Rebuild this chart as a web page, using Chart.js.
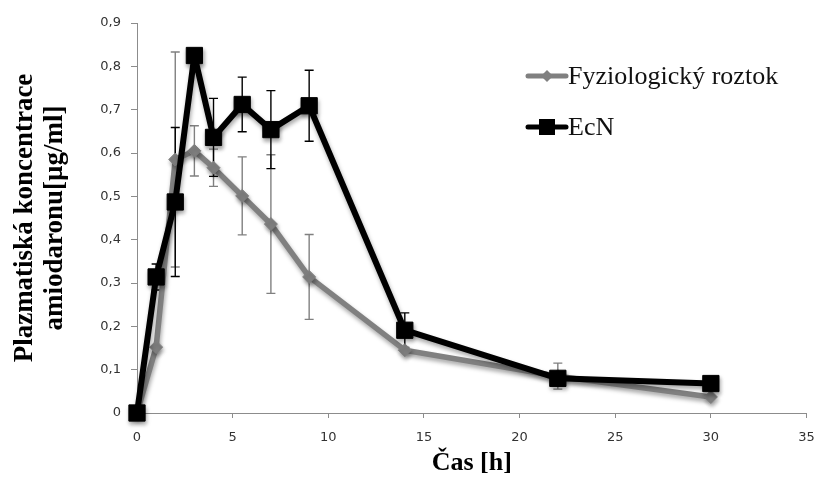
<!DOCTYPE html>
<html>
<head>
<meta charset="utf-8">
<script src="https://cdn.jsdelivr.net/npm/chart.js@4.4.1/dist/chart.umd.min.js"></script>
<style>
  html, body { margin: 0; padding: 0; background: #fff; }
  #wrap { width: 819px; height: 479px; }
</style>
</head>
<body>
<div id="wrap"><canvas id="c" width="819" height="479"></canvas></div>
<script>
// Sampling times [h]
const hours = [0, 1, 2, 3, 4, 5.5, 7, 9, 14, 22, 30];

// Plasma amiodarone concentration [µg/ml], mean values
const fyziologicky = [0, 0.152, 0.585, 0.605, 0.566, 0.501, 0.436, 0.314, 0.145, 0.085, 0.037];
const ecn          = [0, 0.314, 0.487, 0.825, 0.636, 0.712, 0.654, 0.709, 0.191, 0.080, 0.068];

// Standard deviations (symmetric error bars)
const fyziologickyErr = [0, 0, 0.248, 0.058, 0.043, 0.09, 0.16, 0.098, 0, 0.03, 0];
const ecnErr          = [0, 0.03, 0.172, 0, 0.09, 0.063, 0.09, 0.082, 0.04, 0, 0];

const seriesNames = ['Fyziologický roztok', 'EcN'];
const xTicks = [0, 5, 10, 15, 20, 25, 30, 35];
const yTickLabels = ['0', '0,1', '0,2', '0,3', '0,4', '0,5', '0,6', '0,7', '0,8', '0,9'];

const GRAY = '#808080';
const BLACK = '#000000';
const AXIS = '#8c8c8c';

const toPoints = (vals) => hours.map((h, i) => ({ x: h, y: vals[i] }));

// Error bars, drawn beneath the series lines
const errorBars = {
  id: 'errorBars',
  beforeDatasetsDraw(chart) {
    const { ctx, scales: { x, y } } = chart;
    const sets = [
      { vals: fyziologicky, err: fyziologickyErr, color: GRAY },
      { vals: ecn, err: ecnErr, color: BLACK }
    ];
    ctx.save();
    ctx.lineWidth = 1.4;
    sets.forEach(s => {
      ctx.strokeStyle = s.color;
      hours.forEach((h, i) => {
        const e = s.err[i];
        if (!e) return;
        const px = x.getPixelForValue(h);
        const top = y.getPixelForValue(s.vals[i] + e);
        const bot = y.getPixelForValue(s.vals[i] - e);
        ctx.beginPath();
        ctx.moveTo(px, top); ctx.lineTo(px, bot);
        ctx.moveTo(px - 4.5, top); ctx.lineTo(px + 4.5, top);
        ctx.moveTo(px - 4.5, bot); ctx.lineTo(px + 4.5, bot);
        ctx.stroke();
      });
    });
    ctx.restore();
  }
};

// Soft drop shadow under the series lines and markers
const lineShadow = {
  id: 'lineShadow',
  beforeDatasetDraw(chart) {
    const ctx = chart.ctx;
    ctx.save();
    ctx.shadowColor = 'rgba(0,0,0,0.35)';
    ctx.shadowBlur = 4;
    ctx.shadowOffsetX = 1;
    ctx.shadowOffsetY = 3;
  },
  afterDatasetDraw(chart) {
    chart.ctx.restore();
  }
};

// Legend at the upper right of the plot
const sideLegend = {
  id: 'sideLegend',
  afterDraw(chart) {
    const ctx = chart.ctx;
    const x0 = 528, x1 = 566, tx = 568;
    const rows = [
      { y: 76, color: GRAY, marker: 'diamond', name: seriesNames[0] },
      { y: 127, color: BLACK, marker: 'square', name: seriesNames[1] }
    ];
    ctx.save();
    rows.forEach(r => {
      const cx = (x0 + x1) / 2;
      ctx.strokeStyle = r.color;
      ctx.fillStyle = r.color;
      ctx.lineWidth = 5;
      ctx.lineCap = 'round';
      ctx.beginPath();
      ctx.moveTo(x0, r.y); ctx.lineTo(x1, r.y);
      ctx.stroke();
      ctx.beginPath();
      if (r.marker === 'diamond') {
        ctx.moveTo(cx, r.y - 6); ctx.lineTo(cx + 6, r.y);
        ctx.lineTo(cx, r.y + 6); ctx.lineTo(cx - 6, r.y);
        ctx.closePath();
      } else {
        ctx.rect(cx - 8, r.y - 8, 16, 16);
      }
      ctx.fill();
      ctx.fillStyle = '#111';
      ctx.font = '26px "Liberation Serif"';
      ctx.textAlign = 'left';
      ctx.textBaseline = 'middle';
      ctx.fillText(r.name, tx, r.y + 1);
    });
    ctx.restore();
  }
};

new Chart(document.getElementById('c'), {
  type: 'line',
  data: {
    datasets: [
      {
        label: seriesNames[0],
        data: toPoints(fyziologicky),
        borderColor: GRAY,
        backgroundColor: GRAY,
        borderWidth: 5.5,
        borderJoinStyle: 'round',
        pointStyle: 'rectRot',
        pointRadius: 6.5,
        pointBorderWidth: 1,
        tension: 0,
        clip: false,
        order: 2
      },
      {
        label: seriesNames[1],
        data: toPoints(ecn),
        borderColor: BLACK,
        backgroundColor: BLACK,
        borderWidth: 6,
        borderJoinStyle: 'round',
        pointStyle: 'rect',
        pointRadius: 11.5,
        pointBorderWidth: 1,
        tension: 0,
        clip: false,
        order: 1
      }
    ]
  },
  options: {
    responsive: false,
    devicePixelRatio: 1,
    animation: false,
    events: [],
    layout: { padding: { top: 23, right: 12, left: 0, bottom: 0 } },
    plugins: { legend: { display: false }, tooltip: { enabled: false } },
    scales: {
      x: {
        type: 'linear',
        min: 0,
        max: 35,
        afterBuildTicks(scale) { scale.ticks = xTicks.map(v => ({ value: v })); },
        afterFit(scale) {
          scale.height = 66;
          scale.paddingLeft = 0;
          scale.paddingRight = 0;
        },
        ticks: {
          color: '#333',
          font: { family: '"DejaVu Sans"', size: 13 },
          padding: 12,
          maxRotation: 0
        },
        grid: { display: true, drawOnChartArea: false, drawTicks: true, tickLength: 5, color: AXIS },
        border: { display: true, color: AXIS, width: 1 },
        title: {
          display: true,
          text: 'Čas [h]',
          color: '#000',
          font: { family: '"Liberation Serif"', size: 26, weight: 'bold', lineHeight: 1.2 },
          padding: { top: 0, bottom: 0 }
        }
      },
      y: {
        type: 'linear',
        min: 0,
        max: 0.9,
        afterBuildTicks(scale) { scale.ticks = yTickLabels.map((_, i) => ({ value: i / 10 })); },
        afterFit(scale) {
          scale.width = 137;
          scale.paddingTop = 0;
          scale.paddingBottom = 0;
        },
        ticks: {
          color: '#333',
          font: { family: '"DejaVu Sans"', size: 13 },
          padding: 10,
          callback: (v, i) => yTickLabels[i]
        },
        grid: { display: true, drawOnChartArea: false, drawTicks: true, tickLength: 6, color: AXIS },
        border: { display: true, color: AXIS, width: 1 },
        title: {
          display: true,
          text: ['Plazmatiská koncentrace', 'amiodaronu[µg/ml]'],
          color: '#000',
          font: { family: '"Liberation Serif"', size: 27, weight: 'bold', lineHeight: 1.1 },
          padding: { top: 10, bottom: 0 }
        }
      }
    }
  },
  plugins: [errorBars, lineShadow, sideLegend]
});
</script>
</body>
</html>
